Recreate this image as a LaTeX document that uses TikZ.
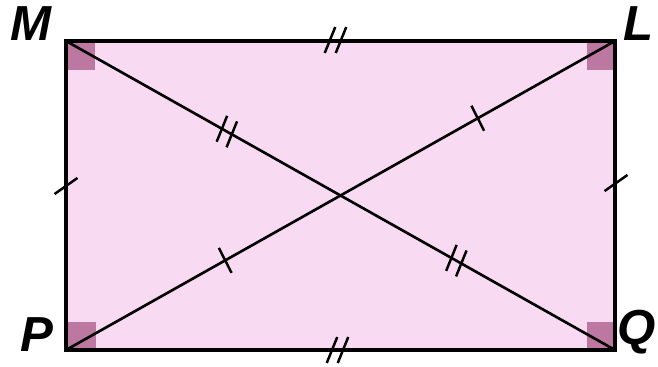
\documentclass[tikz,border=0pt]{standalone}
\usepackage{fontspec}
\setmainfont{Liberation Sans}
\usetikzlibrary{positioning}

\definecolor{sheet}{RGB}{248,219,243}
\definecolor{mauve}{RGB}{188,120,160}

\begin{document}
\begin{tikzpicture}[
    x=0.02cm, y=-0.02cm,
    side/.style={draw, line width=2.2pt},
    diag/.style={draw, line width=1.5pt},
    corner/.style={fill=mauve},
    tick/.style={draw, line width=1.4pt, minimum width=0pt, minimum height=0.56cm, inner sep=0pt, outer sep=0pt},
    vlabel/.style={font=\fontsize{28}{30}\selectfont\bfseries\itshape, inner sep=0pt}
  ]
    \useasboundingbox (0,0) rectangle (658,367);
    \coordinate (M) at (66,41);
    \coordinate (L) at (615,41);
    \coordinate (P) at (66,350);
    \coordinate (Q) at (615,350);

    \fill[sheet] (M) rectangle (Q);
    \fill[corner] (M) rectangle ++(29,29);
    \fill[corner] (L) rectangle ++(-28,29);
    \fill[corner] (P) rectangle ++(30,-28);
    \fill[corner] (Q) rectangle ++(-28,-28);

    \path[diag] (M) -- (Q)
      node[tick, pos=0.284, rotate=-22] (mq1) {}
      node[tick, pos=0.302, rotate=-22] (mq2) {}
      node[tick, pos=0.702, rotate=-22] (mq3) {}
      node[tick, pos=0.720, rotate=-22] (mq4) {};
    \path[diag] (P) -- (L)
      node[tick, pos=0.290, rotate=27] (pl1) {}
      node[tick, pos=0.750, rotate=27] (pl2) {};
    \draw[side] (M) rectangle (Q);

    % equal sides
    \node[tick, rotate=-22] (top1) at (330,40) {};
    \node[tick, rotate=-22] (top2) at (341,40) {};
    \node[tick, rotate=-22] (bot1) at (332,350) {};
    \node[tick, rotate=-22] (bot2) at (343,350) {};
    \node[tick, rotate=-55] (lft) at (66,186) {};
    \node[tick, rotate=-55] (rgt) at (616,183) {};

    \node[vlabel] (lblM) at (31,24) {M};
    \node[vlabel] (lblL) at (639,24) {L};
    \node[vlabel] (lblP) at (37,335) {P};
    \node[vlabel] (lblQ) at (637,332) {Q};
  \end{tikzpicture}
\end{document}
